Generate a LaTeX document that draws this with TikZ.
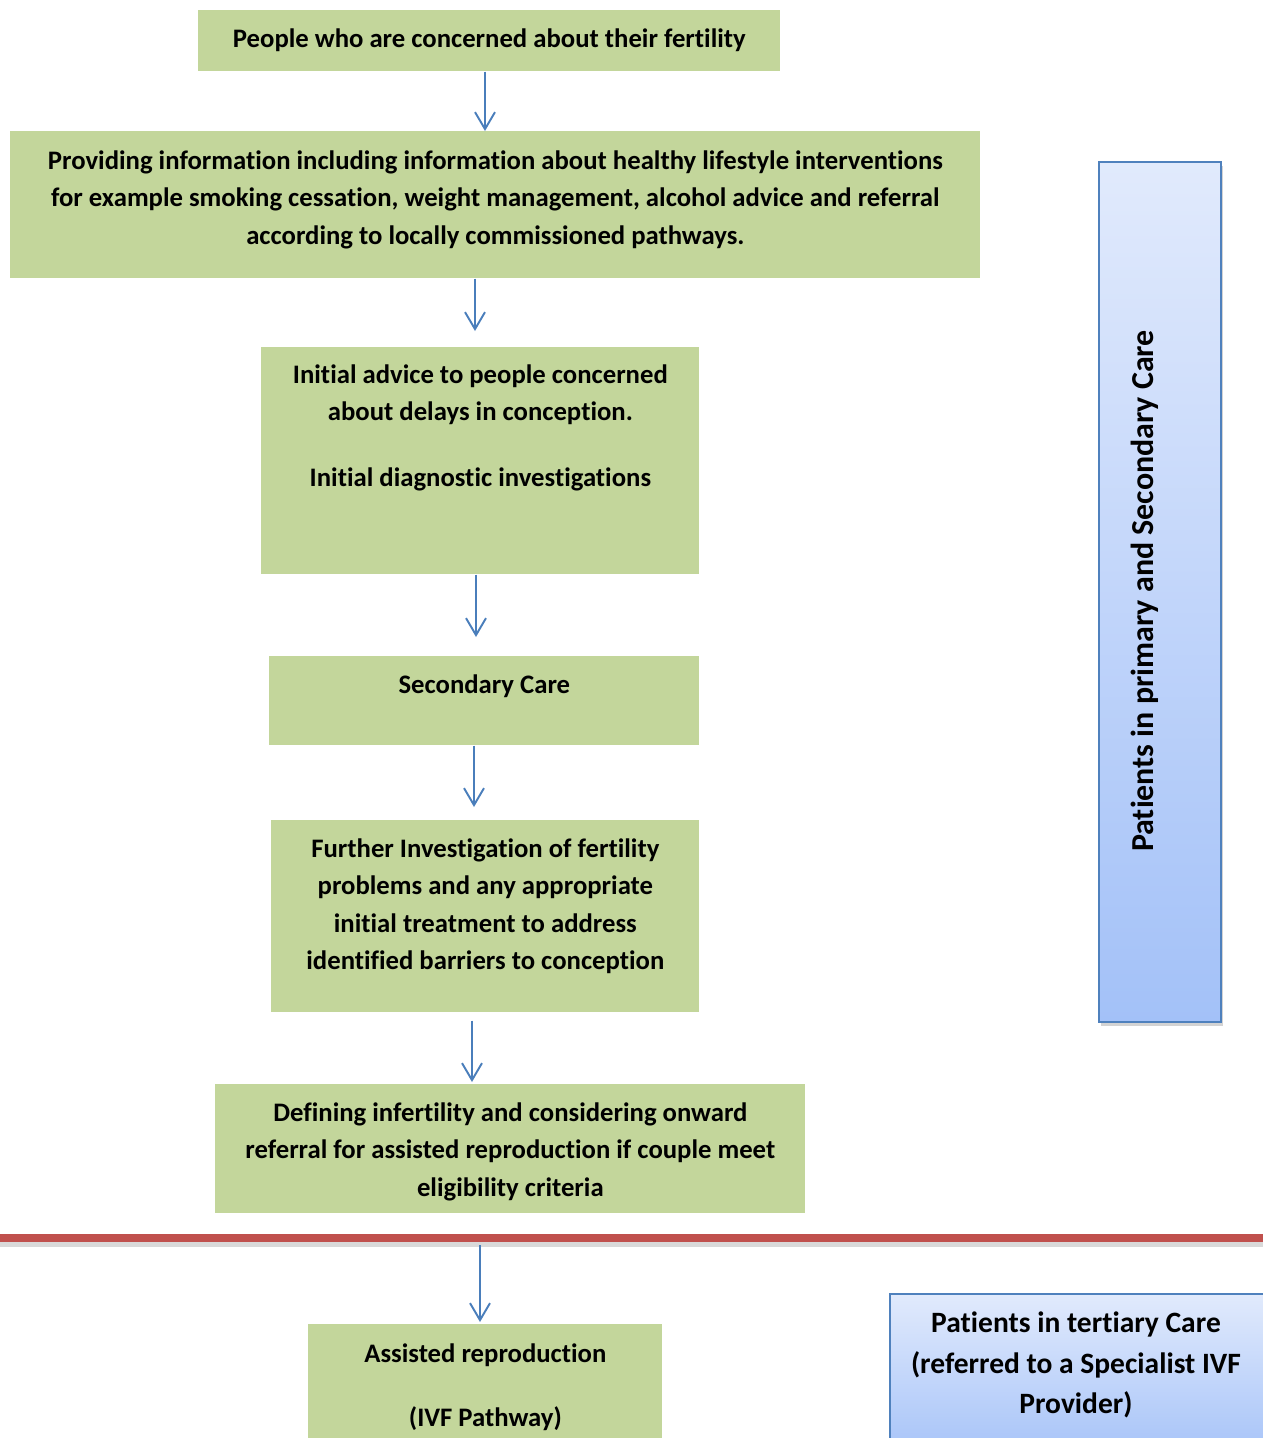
\documentclass[tikz,border=0pt]{standalone}
\usepackage{fontspec}
\setmainfont{Carlito}[Ligatures=NoCommon]
\usetikzlibrary{arrows.meta}
\usetikzlibrary{shadows}
\definecolor{boxgreen}{HTML}{C3D69B}
\definecolor{flowblue}{HTML}{4A7EBB}
\definecolor{edgeblue}{HTML}{4F81BD}
\definecolor{paleblue}{HTML}{E1EAFC}
\definecolor{deepblue}{HTML}{A3C1F8}
\definecolor{barred}{HTML}{C0504D}
\newdimen\pu \pu=0.02cm

\begin{document}
\begin{tikzpicture}[x=0.02cm, y=-0.02cm,
  greenbox/.style = {fill=boxgreen, anchor=north west, inner sep=0pt,
    font=\fontsize{15.2}{21.3}\selectfont\bfseries},
  bluebox/.style = {draw=edgeblue, line width=1.2pt, anchor=north west, inner sep=0pt,
    top color=paleblue, bottom color=deepblue,
    drop shadow={shadow xshift=1pt, shadow yshift=-2pt, opacity=0.35}},
  flow/.style = {draw=flowblue, line width=1.1pt, -{Straight Barb[length=0.34cm, width=0.4cm]}}]
  \useasboundingbox (0,0) rectangle (1263,1438);

  % flow boxes
  \node[greenbox, minimum width=582\pu, text height=37\pu, text depth=24\pu] (b1) at (198,10)
    {\begin{tabular}[t]{c}People who are concerned about their fertility\end{tabular}};
  \node[greenbox, minimum width=970\pu, text height=38\pu, text depth=109\pu] (b2) at (10,131)
    {\begin{tabular}[t]{c}Providing information including information about healthy lifestyle interventions\\
     for example smoking cessation, weight management, alcohol advice and referral\\
     according to locally commissioned pathways.\end{tabular}};
  \node[greenbox, minimum width=438\pu, text height=36\pu, text depth=191\pu] (b3) at (261,347)
    {\begin{tabular}[t]{c}Initial advice to people concerned\\about delays in conception.\\[16pt]
     Initial diagnostic investigations\end{tabular}};
  \node[greenbox, minimum width=430\pu, text height=37\pu, text depth=52\pu] (b4) at (269,656)
    {\begin{tabular}[t]{c}Secondary Care\end{tabular}};
  \node[greenbox, minimum width=428\pu, text height=37\pu, text depth=155\pu] (b5) at (271,820)
    {\begin{tabular}[t]{c}Further Investigation of fertility\\problems and any appropriate\\
     initial treatment to address\\identified barriers to conception\end{tabular}};
  \node[greenbox, minimum width=590\pu, text height=37\pu, text depth=92\pu] (b6) at (215,1084)
    {\begin{tabular}[t]{c}Defining infertility and considering onward\\
     referral for assisted reproduction if couple meet\\eligibility criteria\end{tabular}};
  \node[greenbox, minimum width=354\pu, text height=38\pu, text depth=90\pu] (b7) at (308,1324)
    {\begin{tabular}[t]{c}Assisted reproduction\\[15pt](IVF Pathway)\end{tabular}};

  % care level boxes
  \node[bluebox, minimum width=122\pu, minimum height=860\pu] (primary) at (1098,161) {};
  \node[rotate=90, font=\fontsize{18.2}{22}\selectfont\bfseries] (primarytext) at (1145,591)
    {Patients in primary and Secondary Care};
  \node[bluebox, minimum width=380\pu, minimum height=170\pu] (tertiary) at (889,1293) {};
  \node[align=center, font=\fontsize{16.8}{23.2}\selectfont\bfseries] (tertiarytext) at (1076,1365)
    {Patients in tertiary Care\\(referred to a Specialist IVF\\Provider)};

  % divider
  \coordinate (divL) at (0,1238);
  \coordinate (divR) at (1263,1238);
  \draw[black!15, line width=7\pu, transform canvas={yshift=-3pt}] (divL) -- (divR);
  \draw[barred, line width=8\pu] (divL) -- (divR);

  % arrows
  \draw[flow] (b1.south -| 485,0) -- (b2.north -| 485,0);
  \draw[flow, shorten >=0.32cm] (b2.south -| 475,0) -- (b3.north -| 475,0);
  \draw[flow, shorten >=0.38cm] (b3.south -| 476,0) -- (b4.north -| 476,0);
  \draw[flow, shorten >=0.26cm] (b4.south -| 474,0) -- (b5.north -| 474,0);
  \draw[flow, shorten <=0.16cm, shorten >=0.04cm] (b5.south -| 472,0) -- (b6.north -| 472,0);
  \draw[flow, shorten <=0.14cm, shorten >=0.04cm] (divL -| 480,0) -- (b7.north -| 480,0);
\end{tikzpicture}
\end{document}
